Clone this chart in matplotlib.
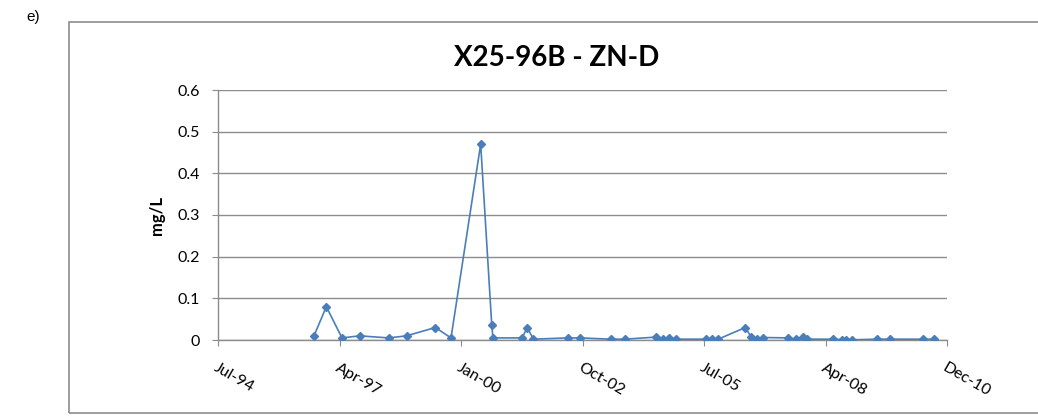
import numpy as np
import matplotlib
matplotlib.use('Agg')
import matplotlib.pyplot as plt
import matplotlib.dates as mdates
from matplotlib.patches import Rectangle

# sample dates and dissolved zinc (mg/L)
dates = ['1996-09-22', '1997-01-01', '1997-05-10', '1997-10-03', '1998-05-29',
         '1998-10-24', '1999-06-17', '1999-10-24', '2000-06-24', '2000-09-23',
         '2000-10-03', '2001-05-30', '2001-07-13', '2001-08-31', '2002-06-10',
         '2002-09-22', '2003-05-30', '2003-09-22', '2004-06-08', '2004-08-02',
         '2004-09-23', '2004-11-14', '2005-07-19', '2005-09-09', '2005-10-31',
         '2006-06-10', '2006-07-29', '2006-09-17', '2006-10-31', '2007-05-30',
         '2007-07-30', '2007-09-30', '2007-11-02', '2008-06-01', '2008-08-14',
         '2008-09-16', '2008-11-04', '2009-05-31', '2009-09-10', '2010-06-14',
         '2010-09-10']
zn = [0.01, 0.08, 0.005, 0.01, 0.005,
      0.01, 0.03, 0.005, 0.47, 0.037,
      0.005, 0.005, 0.03, 0.002, 0.005,
      0.005, 0.002, 0.002, 0.007, 0.002,
      0.006, 0.002, 0.002, 0.002, 0.002,
      0.03, 0.007, 0.002, 0.006, 0.005,
      0.002, 0.008, 0.002, 0.002, 0.001,
      0.001, 0.0005, 0.002, 0.002, 0.002,
      0.002]

yticks = [0, 0.1, 0.2, 0.3, 0.4, 0.5, 0.6]
ytick_labels = ['0', '0.1', '0.2', '0.3', '0.4', '0.5', '0.6']
axis_start = '1994-07-25'
tick_step_days = 1000
n_ticks = 7

plt.rcParams['font.family'] = ['Lato', 'DejaVu Sans']

W, H = 1038, 417
fig = plt.figure(figsize=(W / 100, H / 100), dpi=100)
ax = fig.add_axes([218 / W, 1 - 340 / H, (947.3 - 218) / W, 250 / H])

x = np.array(dates, dtype='datetime64[D]')
ax.plot(x, zn, color='#4A7EBB', lw=1.2, marker='D', ms=3.6, zorder=3)

t0 = np.datetime64(axis_start)
xt = [t0 + np.timedelta64(i * tick_step_days, 'D') for i in range(n_ticks)]
ax.set_xlim(xt[0], xt[-1])
ax.set_xticks(xt)
ax.xaxis.set_major_formatter(mdates.DateFormatter('%b-%y'))
for lab in ax.get_xticklabels():
    lab.set_rotation(-30)
    lab.set_ha('left')
    lab.set_va('top')
    lab.set_rotation_mode('anchor')

ax.set_ylim(0, 0.6)
ax.set_yticks(yticks)
ax.set_yticklabels(ytick_labels)
ax.grid(axis='y', color='#8c8c8c', lw=1.0)
ax.set_axisbelow(True)

for s in ['top', 'right']:
    ax.spines[s].set_visible(False)
for s in ['left', 'bottom']:
    ax.spines[s].set_color('#8c8c8c')
    ax.spines[s].set_linewidth(1.0)
ax.tick_params(axis='x', length=4, color='#8c8c8c', labelsize=11.5, pad=11)
ax.tick_params(axis='y', length=4, color='#8c8c8c', labelsize=11.5, pad=9)

ax.set_ylabel('mg/L', fontsize=12, fontweight='bold', labelpad=9)
fig.text(557 / W, 1 - 58 / H, 'X25-96B - ZN-D', fontsize=20, fontweight='bold',
         ha='center', va='center')
fig.text(26 / W, 1 - 17 / H, 'e)', fontsize=11, family='Liberation Sans',
         ha='left', va='center')

# chart area border (runs off the right edge)
fig.patches.append(Rectangle((68.7 / W, 1 - 412.7 / H), 1.1, (412.7 - 22) / H,
                             transform=fig.transFigure, fill=False,
                             edgecolor='#8c8c8c', lw=1.2))

fig.savefig('out.png', dpi=100)
